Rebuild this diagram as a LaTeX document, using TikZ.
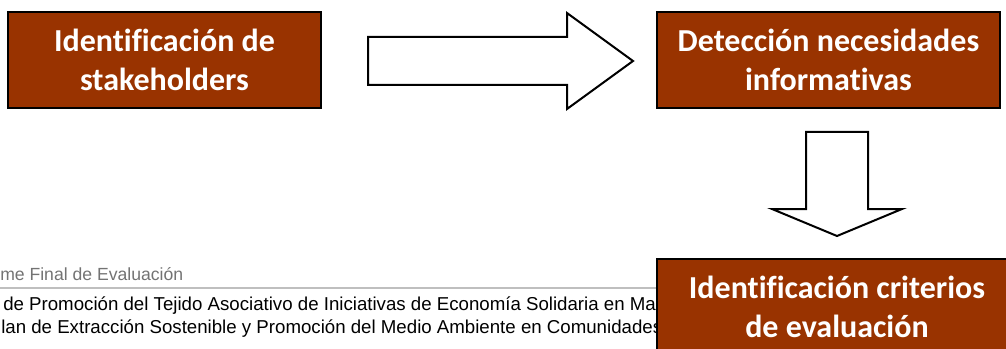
\documentclass[tikz,border=0pt]{standalone}
\usepackage{fontspec}
\setmainfont{Liberation Sans}
\newfontfamily\boxfont[Ligatures=NoCommon]{Carlito}
\definecolor{boxbrown}{RGB}{153,51,0}

\begin{document}
\begin{tikzpicture}[x=0.75pt, y=0.75pt, rotate=180, xscale=-1,
  box/.style={rectangle, draw=black, line width=1.3pt, fill=boxbrown, text=white, align=center, inner sep=0pt, font=\boxfont\bfseries\fontsize{24}{29}\selectfont},
  note/.style={anchor=base west, inner sep=0pt, font=\fontsize{14}{16}\selectfont},
  block/.style={draw=black, line width=1.5pt, fill=white, line join=miter}]
\useasboundingbox (0,0) rectangle (1006,349);
\clip (0,0) rectangle (1006,349);
\node[note, text=black!55, font=\fontsize{13.2}{15}\selectfont] (h) at (0,280) {me Final de Evaluación};
\draw[black!25, line width=1.5pt] (0,288) -- (700,288);
\node[note] (l1) at (3,310) {de Promoción del Tejido Asociativo de Iniciativas de Economía Solidaria en Ma};
\node[note] (l2) at (1,333) {lan de Extracción Sostenible y Promoción del Medio Ambiente en Comunidades};
\node[box, minimum width=234.75pt, minimum height=72pt] (1) at (164.5,60) {Identificación de\\stakeholders};
\node[box, minimum width=257.25pt, minimum height=72pt] (2) at (828.5,60) {Detección necesidades\\informativas};
\node[box, minimum width=270pt, minimum height=72pt] (3) at (837,307) {Identificación criterios\\de evaluación};
\draw[block] (368,37) -- (567,37) -- (567,13) -- (633,61) -- (567,109) -- (567,85) -- (368,85) -- cycle;
\draw[block] (806,132) -- (868,132) -- (868,209) -- (902,209) -- (837,236) -- (772,209) -- (806,209) -- cycle;
\end{tikzpicture}
\end{document}
